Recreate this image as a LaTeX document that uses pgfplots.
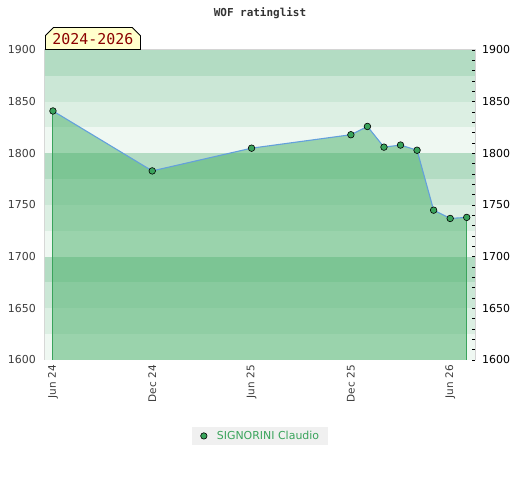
\documentclass[border=0pt]{standalone}
\usepackage{pgfplots}
\pgfplotsset{compat=1.18}
\usepackage{fontspec}
\setmainfont{DejaVu Sans}
\newfontfamily\monofont{DejaVu Sans Mono}
\usetikzlibrary{shapes.misc}
\definecolor{bandA}{RGB}{179,220,195}
\definecolor{bandB}{RGB}{203,231,214}
\definecolor{bandC}{RGB}{220,239,227}
\definecolor{bandD}{RGB}{239,248,242}
\definecolor{areafill}{RGB}{70,175,103}
\definecolor{markgreen}{RGB}{58,164,92}
\definecolor{linegreen}{RGB}{58,164,92}
\definecolor{lineblue}{RGB}{100,160,220}
\definecolor{bordergrey}{RGB}{212,212,212}
\definecolor{labelgrey}{RGB}{60,60,60}
\definecolor{legbg}{RGB}{240,240,240}
\definecolor{legtext}{RGB}{58,164,92}
\definecolor{boxyellow}{RGB}{255,255,204}
\definecolor{boxred}{RGB}{139,0,0}
\definecolor{titlegrey}{RGB}{51,51,51}
\begin{document}
\begin{tikzpicture}
\path[use as bounding box] (0,0) rectangle (520bp,480bp);
\begin{axis}[
  name=main,
  at={(45bp,120bp)}, anchor=south west,
  width=430bp, height=310bp, scale only axis,
  xmin=-0.48, xmax=25.5, ymin=1600, ymax=1900,
  xtick={0,6,12,18,24},
  xticklabels={Jun 24,Dec 24,Jun 25,Dec 25,Jun 26},
  ytick={1600,1650,1700,1750,1800,1850,1900},
  major tick length=0pt,
  axis line style={draw=bordergrey, line width=1bp},
  /pgf/number format/assume math mode=true,
  /pgf/number format/1000 sep={},
  yticklabel style={font=\fontsize{11}{13}\selectfont, text=labelgrey, inner sep=0pt, xshift=-9bp},
  xticklabel style={font=\fontsize{10.5}{12}\selectfont, text=labelgrey, rotate=90, anchor=east, inner sep=0pt, xshift=-5bp},
  legend style={at={(0.5,-0.245)}, anchor=center, fill=legbg, draw=none,
    font=\fontsize{11}{13}\selectfont, text=legtext, inner xsep=6bp, inner ysep=2.5bp,
    nodes={inner xsep=3bp}},
  legend image code/.code={\path[draw=none] (-6bp,0bp) -- (10bp,0bp);
    \draw[#1] plot coordinates {(0bp,0bp)};},
  legend cell align=left,
]
% background bands
\addplot[fill=bandA, draw=none, forget plot] coordinates {(-1,1875)(26,1875)(26,1900)(-1,1900)} -- cycle;
\addplot[fill=bandB, draw=none, forget plot] coordinates {(-1,1850)(26,1850)(26,1875)(-1,1875)} -- cycle;
\addplot[fill=bandC, draw=none, forget plot] coordinates {(-1,1825)(26,1825)(26,1850)(-1,1850)} -- cycle;
\addplot[fill=bandD, draw=none, forget plot] coordinates {(-1,1800)(26,1800)(26,1825)(-1,1825)} -- cycle;
\addplot[fill=bandA, draw=none, forget plot] coordinates {(-1,1775)(26,1775)(26,1800)(-1,1800)} -- cycle;
\addplot[fill=bandB, draw=none, forget plot] coordinates {(-1,1750)(26,1750)(26,1775)(-1,1775)} -- cycle;
\addplot[fill=bandC, draw=none, forget plot] coordinates {(-1,1725)(26,1725)(26,1750)(-1,1750)} -- cycle;
\addplot[fill=bandD, draw=none, forget plot] coordinates {(-1,1700)(26,1700)(26,1725)(-1,1725)} -- cycle;
\addplot[fill=bandA, draw=none, forget plot] coordinates {(-1,1675)(26,1675)(26,1700)(-1,1700)} -- cycle;
\addplot[fill=bandB, draw=none, forget plot] coordinates {(-1,1650)(26,1650)(26,1675)(-1,1675)} -- cycle;
\addplot[fill=bandC, draw=none, forget plot] coordinates {(-1,1625)(26,1625)(26,1650)(-1,1650)} -- cycle;
\addplot[fill=bandD, draw=none, forget plot] coordinates {(-1,1600)(26,1600)(26,1625)(-1,1625)} -- cycle;
% area under curve
\addplot[fill=areafill, fill opacity=0.5, draw=none, forget plot] coordinates {
(0,1600)(0,1841)(6,1783)(12,1805)(18,1818)(19,1826)(20,1806)(21,1808)(22,1803)(23,1745)(24,1737)(25,1738)(25,1600)} -- cycle;
% side lines
\addplot[linegreen, line width=1bp, forget plot] coordinates {(0,1600)(0,1841)};
\addplot[linegreen, line width=1bp, forget plot] coordinates {(25,1600)(25,1738)};
% rating line
\addplot[lineblue, line width=1.1bp, mark=*, mark size=3.3bp,
  mark options={fill=markgreen, draw=black, line width=0.6bp}, forget plot] coordinates {
(0,1841)(6,1783)(12,1805)(18,1818)(19,1826)(20,1806)(21,1808)(22,1803)(23,1745)(24,1737)(25,1738)};
\addlegendimage{only marks, mark=*, mark size=3.2bp, mark options={fill=markgreen, draw=black, line width=0.6bp}}
\addlegendentry{SIGNORINI Claudio}
\end{axis}
\begin{axis}[
  at={(45bp,120bp)}, anchor=south west,
  width=430bp, height=310bp, scale only axis,
  xmin=-0.48, xmax=25.5, ymin=1600, ymax=1900,
  hide x axis,
  axis y line*=right,
  ytick={1600,1650,1700,1750,1800,1850,1900},
  minor y tick num=4,
  tick align=inside,
  major tick length=3bp, minor tick length=3bp,
  y tick style={black, line width=0.8bp},
  axis line style={draw=bordergrey, line width=1bp},
  /pgf/number format/assume math mode=true,
  /pgf/number format/1000 sep={},
  yticklabel style={font=\fontsize{11}{13}\selectfont, text=black, inner sep=0pt, xshift=7bp},
]
\end{axis}
\node[chamfered rectangle, chamfered rectangle corners={north west, north east},
  chamfered rectangle xsep=4bp, chamfered rectangle ysep=4bp,
  fill=boxyellow, draw=black, line width=0.8bp, inner sep=0pt,
  minimum width=95bp, minimum height=22bp, anchor=south west,
  font=\monofont\fontsize{15}{17}\selectfont, text=boxred] at (main.north west) {2024-2026};
\node[font=\monofont\bfseries\fontsize{11}{13}\selectfont, text=titlegrey] at (260bp,467bp) {WOF ratinglist};
\end{tikzpicture}
\end{document}
